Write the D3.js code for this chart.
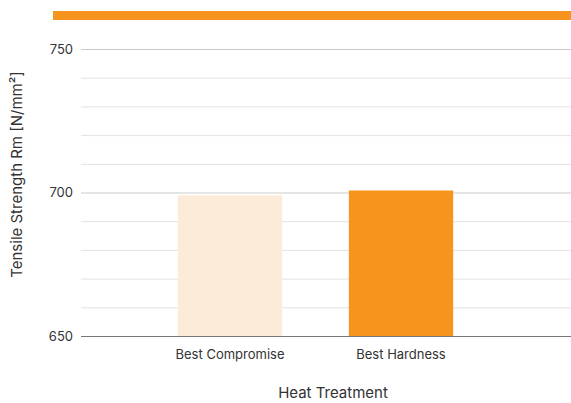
<!DOCTYPE html>
<html>
<head>
<meta charset="utf-8">
<script src="https://cdn.jsdelivr.net/npm/d3@7/dist/d3.min.js"></script>
<style>
  html, body { margin: 0; padding: 0; background: #fff; }
  svg { display: block; font-family: Inter, "Open Sans", sans-serif; }
</style>
</head>
<body>
<svg id="chart" width="571" height="403"></svg>
<script>
// Heat treatment variants and their tensile strength Rm in N/mm²
const categories = ["Best Compromise", "Best Hardness"];
const tensileStrength = [699, 700.7];
const barColors = ["#FDEBD9", "#F7941D"];
const majorTicks = [650, 700, 750];
const minorTicks = [660, 670, 680, 690, 710, 720, 730, 740];

const svg = d3.select("#chart");
const W = 571;
const plotLeft = 81, plotRight = 571, plotTop = 49, plotBottom = 336;

const y = d3.scaleLinear().domain([650, 750]).range([plotBottom, plotTop]);
const x = d3.scaleBand()
  .domain(categories)
  .range([59.5, 571.5])
  .paddingInner(0.39)
  .paddingOuter(0.692);

// header accent strip
svg.append("rect")
  .attr("x", 53).attr("y", 11)
  .attr("width", W - 53).attr("height", 9)
  .attr("fill", "#F7941D");

// minor gridlines
svg.append("g").selectAll("line").data(minorTicks).join("line")
  .attr("x1", plotLeft).attr("x2", plotRight)
  .attr("y1", d => y(d) + 0.5).attr("y2", d => y(d) + 0.5)
  .attr("stroke", "#e3e3e3").attr("stroke-width", 1);

// major gridlines (the lowest one acts as the baseline)
svg.append("g").selectAll("line").data(majorTicks).join("line")
  .attr("x1", plotLeft).attr("x2", plotRight)
  .attr("y1", d => y(d) + 0.5).attr("y2", d => y(d) + 0.5)
  .attr("stroke", d => d === 650 ? "#777" : "#cbcbcb").attr("stroke-width", 1);

// y axis tick labels
const yAxis = d3.axisLeft(y).tickValues(majorTicks).tickSize(0).tickPadding(0);
const gy = svg.append("g").attr("transform", `translate(73,0)`).call(yAxis);
gy.select(".domain").remove();
gy.selectAll("text")
  .attr("font-family", "Inter, sans-serif")
  .attr("font-size", 13).attr("fill", "#333");

// bars
svg.append("g").selectAll("rect").data(categories).join("rect")
  .attr("x", d => x(d))
  .attr("width", x.bandwidth())
  .attr("y", (d, i) => y(tensileStrength[i]))
  .attr("height", (d, i) => y(650) - y(tensileStrength[i]))
  .attr("fill", (d, i) => barColors[i]);

// x axis category labels
const xAxis = d3.axisBottom(x).tickSize(0).tickPadding(0);
const gx = svg.append("g").attr("transform", `translate(0,350)`).call(xAxis);
gx.select(".domain").remove();
gx.selectAll("text")
  .attr("font-family", "Inter, sans-serif")
  .attr("font-size", 13).attr("fill", "#333");

// axis titles
svg.append("text")
  .attr("x", 333).attr("y", 398)
  .attr("text-anchor", "middle")
  .attr("font-size", 15).attr("fill", "#333")
  .text("Heat Treatment");

svg.append("text")
  .attr("transform", `translate(22,${(plotTop + plotBottom) / 2 - 18}) rotate(-90)`)
  .attr("text-anchor", "middle")
  .attr("font-size", 15).attr("fill", "#333")
  .text("Tensile Strength Rm [N/mm²]");
</script>
</body>
</html>
